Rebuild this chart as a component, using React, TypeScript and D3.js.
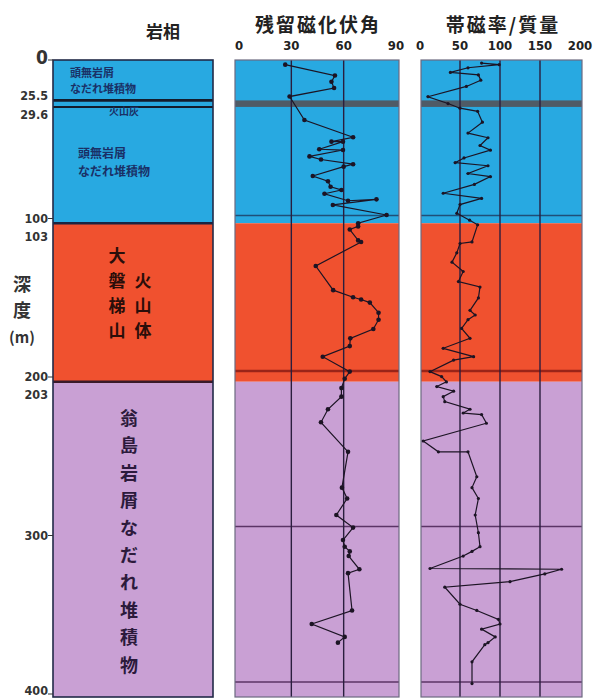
import React from "react";
import * as d3 from "d3";

// Lithology column (depth in metres)
const layerNames = ["頭無岩屑なだれ堆積物", "大磐梯山火山体", "翁島岩屑なだれ堆積物"];
const layerTop = [0, 103, 203];
const layerBottom = [103, 203, 402];
const layerColors = ["#28a9e1", "#f0512f", "#c9a0d4"];
const ashTop = 25.5;
const ashBottom = 29.6;

// Depth labels on the left of the column
const depthTicks = [0, 25.5, 29.6, 100, 103, 200, 203, 300, 400];
const depthTickLabels = ["0", "25.5", "29.6", "100", "103", "200", "203", "300", "400"];

// Remanent magnetisation inclination (degrees) by depth
const inclinationDepth = [3, 10, 14, 18, 23.5, 38.6, 49.7, 52.5, 52.5, 57.4, 57.9, 62, 64, 67, 68.6, 74.6, 78, 81.5, 83.6, 86, 90.5, 89.6, 93.2, 99.7, 105, 107, 109, 116, 117, 132.5, 148, 152.6, 154, 156, 162.5, 167, 173, 179, 184, 190.8, 200.4, 205, 211, 216.5, 224.6, 233, 252, 275, 282, 292.6, 300.7, 308.7, 313, 316, 319, 327.5, 330, 354, 362.7, 371, 374.7];
const inclinationValue = [26.5, 55, 53, 54.5, 29, 37.5, 65.4, 53, 59.6, 46, 59.6, 40.4, 47, 65.4, 60, 42.3, 51, 52.5, 58.7, 49, 62.5, 78.8, 53.8, 84.6, 68.3, 68.3, 63.5, 68.3, 70, 44, 54, 65.4, 70, 75, 80, 80, 77, 63.8, 63.5, 48, 63.5, 60.6, 58.7, 58.7, 51, 47, 62.5, 59, 62, 55.8, 65.4, 59.6, 60.6, 63.5, 62.9, 69, 62.5, 64.8, 41.7, 60.6, 56.7];

// Magnetic susceptibility per mass by depth
const susceptibilityDepth = [2, 3, 5, 8, 9.6, 13, 17, 23.6, 28, 31, 33, 40, 47, 50, 55, 58, 63, 66, 68, 73, 75, 80, 85.7, 89, 93, 98.6, 103, 106, 117, 118, 124, 130, 136, 142.5, 146, 153, 161, 164, 167, 172.6, 179, 185.4, 190.8, 193, 200.4, 203.6, 207, 210, 213, 216.5, 219.7, 224.6, 227, 228, 233.6, 245, 252, 252, 268, 275, 282, 292.6, 304, 313, 316, 319, 327, 327.5, 330.5, 335.5, 339, 350, 354, 359.7, 362.7, 366, 371, 374.7, 376, 387, 401];
const susceptibilityValue = [77, 99, 60, 38, 73, 76, 58, 10, 35, 50, 72, 78, 60, 85, 75, 88, 55, 44, 85, 60, 88, 68, 29, 77, 50, 46, 62, 72, 65, 50, 46, 40, 54, 48, 75, 73, 62.5, 69, 60, 52, 62.5, 29, 67, 42, 12.5, 27, 33, 21, 42, 29, 31, 62.5, 54, 77, 83, 4, 23, 60, 71, 65, 73, 69, 73, 75, 65, 54, 12.5, 177, 156, 112.5, 31, 50, 71, 98, 100, 77, 94, 85, 81, 65, 65];

// Horizontal reference depths drawn across the log panels
const panelGridDepths = [100, 200, 300, 400];
const inclinationTicks = [0, 30, 60, 90];
const susceptibilityTicks = [0, 50, 100, 150, 200];

const W = 594;
const H = 699;
const TOP = 60;
const BOTTOM = 697;

const yCol = d3.scaleLinear().domain([0, 400]).range([TOP, 694]);
const yLog = d3.scaleLinear().domain([0, 400]).range([TOP, 682]);

const col = { x0: 53, x1: 213 };
const incPanel = { x0: 235, x1: 399 };
const susPanel = { x0: 421, x1: 582 };
const xInc = d3.scaleLinear().domain([0, 90]).range([239, 396]);
const xSus = d3.scaleLinear().domain([0, 200]).range([420, 580]);

const jp = "'Noto Sans CJK JP', 'Noto Sans', sans-serif";
const num = "'Liberation Sans Narrow', 'DejaVu Sans Condensed', 'Liberation Sans', sans-serif";

const gridLineColors = ["#1f4f78", "#9a2418", "#5b3466", "#5b3466"];

function LogPanel({ x0, x1, xs, ticks, depth, value, r }: any) {
  const line = d3
    .line<number>()
    .x((_, i) => xs(value[i]))
    .y((dd) => yLog(dd));
  return (
    <g>
      {layerTop.map((t, i) => (
        <rect key={i} x={x0} y={yCol(t)} width={x1 - x0}
          height={Math.min(yCol(layerBottom[i]), BOTTOM) - yCol(t)} fill={layerColors[i]} />
      ))}
      <rect x={x0} y={yCol(ashTop)} width={x1 - x0} height={yCol(ashBottom) - yCol(ashTop)} fill="#4f5b66" />
      {panelGridDepths.map((d, i) => (
        <line key={d} x1={x0} x2={x1} y1={yLog(d)} y2={yLog(d)} stroke={gridLineColors[i]}
          strokeWidth={i === 1 ? 2.6 : 1.6} />
      ))}
      {ticks.slice(1, -1).map((t: number) => (
        <line key={t} x1={xs(t)} x2={xs(t)} y1={TOP} y2={BOTTOM} stroke="#2a1e3e" strokeWidth={1.4} />
      ))}
      <rect x={x0} y={TOP} width={x1 - x0} height={BOTTOM - TOP} fill="none" stroke="#6d6a80" strokeWidth={1.2} />
      <path d={line(depth) || ""} fill="none" stroke="#1c1424" strokeWidth={1.2} />
      {depth.map((d: number, i: number) => (
        <circle key={i} cx={xs(value[i])} cy={yLog(d)} r={r} fill="#1c1424" />
      ))}
      {ticks.map((t: number) => (
        <text key={t} x={xs(t)} y={50} textAnchor="middle" fontFamily={num} fontWeight="bold" fontSize={13} fill="#222">
          {t}
        </text>
      ))}
    </g>
  );
}

export default function App() {
  const labelDy: Record<string, number> = { "0": 0, "25.5": -4, "29.6": 8, "100": 0, "103": 14, "200": 0, "203": 13, "300": 0, "400": -3 };
  const redCol1 = ["大", "磐", "梯", "山"];
  const redCol2 = ["火", "山", "体"];
  const purple = Array.from("翁島岩屑なだれ堆積物");
  return (
    <svg width={W} height={H} style={{ position: "absolute", left: 0, top: 0, background: "#fff" }}>
      <rect width={W} height={H} fill="#fff" />
      {/* headers */}
      <text x={163} y={38} textAnchor="middle" fontFamily={jp} fontWeight="bold" fontSize={17} fill="#222">岩相</text>
      <text x={318} y={32} textAnchor="middle" fontFamily={jp} fontWeight="bold" fontSize={19} letterSpacing={2} fill="#222">残留磁化伏角</text>
      <text x={503} y={32} textAnchor="middle" fontFamily={jp} fontWeight="bold" fontSize={19} letterSpacing={2} fill="#222">帯磁率/質量</text>

      {/* lithology column */}
      {layerTop.map((t, i) => (
        <rect key={i} x={col.x0} y={yCol(t)} width={col.x1 - col.x0}
          height={Math.min(yCol(layerBottom[i]), BOTTOM) - yCol(t)} fill={layerColors[i]} />
      ))}
      <line x1={col.x0} x2={col.x1} y1={yCol(ashTop)} y2={yCol(ashTop)} stroke="#141c2c" strokeWidth={2.6} />
      <line x1={col.x0} x2={col.x1} y1={yCol(ashBottom)} y2={yCol(ashBottom)} stroke="#141c2c" strokeWidth={2} />
      <line x1={col.x0} x2={col.x1} y1={yCol(103)} y2={yCol(103)} stroke="#1b2340" strokeWidth={2.4} />
      <line x1={col.x0} x2={col.x1} y1={yCol(203)} y2={yCol(203)} stroke="#3a1a2a" strokeWidth={2.4} />
      <rect x={col.x0} y={TOP} width={col.x1 - col.x0} height={BOTTOM - TOP} fill="none" stroke="#222a48" strokeWidth={1.6} />

      {/* depth ticks */}
      {depthTicks.map((d, i) => (
        <g key={d}>
          {[0, 100, 200, 300, 400].includes(d) && (
            <line x1={col.x0 - 5} x2={col.x0} y1={yCol(d)} y2={yCol(d)} stroke="#333" strokeWidth={1} />
          )}
          <text x={col.x0 - 5} y={yCol(d) + labelDy[depthTickLabels[i]] + 4} textAnchor="end"
            fontFamily={num} fontWeight="bold" fontSize={d === 0 ? 19 : 12.5} fill="#333">
            {depthTickLabels[i]}
          </text>
        </g>
      ))}
      {/* depth axis title */}
      {["深", "度"].map((c, i) => (
        <text key={c} x={22} y={291 + i * 26} textAnchor="middle" fontFamily={jp} fontWeight="bold" fontSize={18} fill="#333">{c}</text>
      ))}
      <text x={22} y={343} textAnchor="middle" fontFamily={jp} fontWeight="bold" fontSize={15} fill="#333">(m)</text>

      {/* layer labels */}
      <text x={70} y={77} fontFamily={jp} fontWeight="bold" fontSize={11} fill="#1a3066">頭無岩屑</text>
      <text x={70} y={93} fontFamily={jp} fontWeight="bold" fontSize={11} fill="#1a3066">なだれ堆積物</text>
      <text x={124} y={115} textAnchor="middle" fontFamily={jp} fontWeight="bold" fontSize={10} fill="#1a3066">火山灰</text>
      <text x={78} y={158} fontFamily={jp} fontWeight="bold" fontSize={12} fill="#1a3066">頭無岩屑</text>
      <text x={78} y={176} fontFamily={jp} fontWeight="bold" fontSize={12} fill="#1a3066">なだれ堆積物</text>
      {redCol1.map((c, i) => (
        <text key={"a" + i} x={117} y={262 + i * 25} textAnchor="middle" fontFamily={jp} fontWeight="bold" fontSize={17} fill="#2a0e0a">{c}</text>
      ))}
      {redCol2.map((c, i) => (
        <text key={"b" + i} x={143} y={287 + i * 25} textAnchor="middle" fontFamily={jp} fontWeight="bold" fontSize={17} fill="#2a0e0a">{c}</text>
      ))}
      {purple.map((c, i) => (
        <text key={"p" + i} x={129} y={425 + i * 27.4} textAnchor="middle" fontFamily={jp} fontWeight="bold" fontSize={18} fill="#2c1a3c">{c}</text>
      ))}

      <LogPanel x0={incPanel.x0} x1={incPanel.x1} xs={xInc} ticks={inclinationTicks}
        depth={inclinationDepth} value={inclinationValue} r={2.3} />
      <LogPanel x0={susPanel.x0} x1={susPanel.x1} xs={xSus} ticks={susceptibilityTicks}
        depth={susceptibilityDepth} value={susceptibilityValue} r={1.6} />
    </svg>
  );
}
